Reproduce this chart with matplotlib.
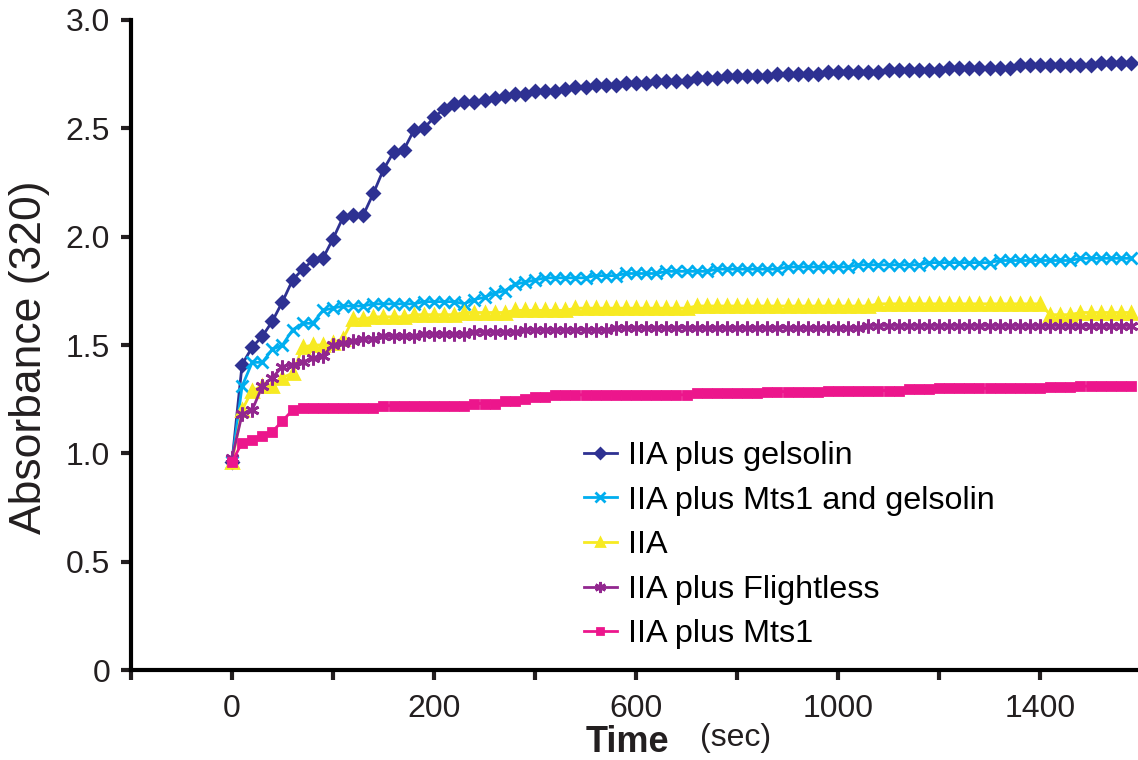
import numpy as np
import matplotlib.pyplot as plt

plt.rcParams['font.family'] = ['Liberation Sans', 'DejaVu Sans']

# readings every 20 s
time = np.arange(90) * 20

gelsolin = [0.96, 1.41, 1.49, 1.54, 1.61, 1.70, 1.80, 1.85, 1.89, 1.90,
            1.99, 2.09, 2.10, 2.10, 2.20, 2.31, 2.39, 2.40, 2.49, 2.50,
            2.55, 2.59, 2.61, 2.62, 2.62, 2.63, 2.64, 2.65, 2.66, 2.66,
            2.67, 2.67, 2.67, 2.68, 2.69, 2.69, 2.70, 2.70, 2.70, 2.71,
            2.71, 2.71, 2.72, 2.72, 2.72, 2.72, 2.73, 2.73, 2.73, 2.74,
            2.74, 2.74, 2.74, 2.74, 2.75, 2.75, 2.75, 2.75, 2.75, 2.76,
            2.76, 2.76, 2.76, 2.76, 2.76, 2.77, 2.77, 2.77, 2.77, 2.77,
            2.77, 2.78, 2.78, 2.78, 2.78, 2.78, 2.78, 2.78, 2.79, 2.79,
            2.79, 2.79, 2.79, 2.79, 2.79, 2.79, 2.80, 2.80, 2.80, 2.80]

mts1_gelsolin = [0.96, 1.31, 1.42, 1.42, 1.48, 1.50, 1.57, 1.60, 1.60, 1.66,
                 1.67, 1.68, 1.68, 1.68, 1.69, 1.69, 1.69, 1.69, 1.69, 1.70,
                 1.70, 1.70, 1.70, 1.69, 1.71, 1.72, 1.74, 1.75, 1.78, 1.79,
                 1.80, 1.81, 1.81, 1.81, 1.81, 1.81, 1.82, 1.82, 1.82, 1.83,
                 1.83, 1.83, 1.83, 1.84, 1.84, 1.84, 1.84, 1.84, 1.85, 1.85,
                 1.85, 1.85, 1.85, 1.85, 1.85, 1.86, 1.86, 1.86, 1.86, 1.86,
                 1.86, 1.86, 1.87, 1.87, 1.87, 1.87, 1.87, 1.87, 1.87, 1.88,
                 1.88, 1.88, 1.88, 1.88, 1.88, 1.88, 1.89, 1.89, 1.89, 1.89,
                 1.89, 1.89, 1.89, 1.89, 1.90, 1.90, 1.90, 1.90, 1.90, 1.90]

iia = [0.96, 1.20, 1.29, 1.31, 1.31, 1.35, 1.37, 1.49, 1.50, 1.50,
       1.51, 1.53, 1.62, 1.62, 1.63, 1.63, 1.63, 1.63, 1.64, 1.64,
       1.64, 1.64, 1.64, 1.65, 1.65, 1.65, 1.65, 1.65, 1.66, 1.66,
       1.66, 1.66, 1.66, 1.66, 1.67, 1.67, 1.67, 1.67, 1.67, 1.67,
       1.67, 1.67, 1.67, 1.67, 1.67, 1.67, 1.68, 1.68, 1.68, 1.68,
       1.68, 1.68, 1.68, 1.68, 1.68, 1.68, 1.68, 1.68, 1.68, 1.68,
       1.68, 1.68, 1.68, 1.68, 1.69, 1.69, 1.69, 1.69, 1.69, 1.69,
       1.69, 1.69, 1.69, 1.69, 1.69, 1.69, 1.69, 1.69, 1.69, 1.69,
       1.69, 1.64, 1.64, 1.64, 1.65, 1.65, 1.65, 1.65, 1.65, 1.65]

flightless = [0.98, 1.18, 1.20, 1.31, 1.35, 1.40, 1.41, 1.42, 1.44, 1.45,
              1.50, 1.51, 1.52, 1.53, 1.53, 1.54, 1.54, 1.54, 1.54, 1.55,
              1.55, 1.55, 1.55, 1.55, 1.56, 1.56, 1.56, 1.56, 1.56, 1.57,
              1.57, 1.57, 1.57, 1.57, 1.57, 1.57, 1.57, 1.57, 1.58, 1.58,
              1.58, 1.58, 1.58, 1.58, 1.58, 1.58, 1.58, 1.58, 1.58, 1.58,
              1.58, 1.58, 1.58, 1.58, 1.58, 1.58, 1.58, 1.58, 1.58, 1.58,
              1.58, 1.58, 1.58, 1.59, 1.59, 1.59, 1.59, 1.59, 1.59, 1.59,
              1.59, 1.59, 1.59, 1.59, 1.59, 1.59, 1.59, 1.59, 1.59, 1.59,
              1.59, 1.59, 1.59, 1.59, 1.59, 1.59, 1.59, 1.59, 1.59, 1.59]

mts1 = [0.96, 1.05, 1.06, 1.08, 1.10, 1.15, 1.20, 1.21, 1.21, 1.21,
        1.21, 1.21, 1.21, 1.21, 1.21, 1.22, 1.22, 1.22, 1.22, 1.22,
        1.22, 1.22, 1.22, 1.22, 1.23, 1.23, 1.23, 1.24, 1.24, 1.25,
        1.26, 1.26, 1.27, 1.27, 1.27, 1.27, 1.27, 1.27, 1.27, 1.27,
        1.27, 1.27, 1.27, 1.27, 1.27, 1.27, 1.28, 1.28, 1.28, 1.28,
        1.28, 1.28, 1.28, 1.285, 1.285, 1.285, 1.285, 1.285, 1.285, 1.29,
        1.29, 1.29, 1.29, 1.29, 1.29, 1.29, 1.29, 1.295, 1.295, 1.295,
        1.30, 1.30, 1.30, 1.30, 1.30, 1.30, 1.30, 1.30, 1.30, 1.30,
        1.30, 1.305, 1.305, 1.305, 1.31, 1.31, 1.31, 1.31, 1.31, 1.31]

series = [
    ('IIA plus gelsolin', gelsolin, '#2E3192', 'D', 6),
    ('IIA plus Mts1 and gelsolin', mts1_gelsolin, '#00AEEF', 'x', 9),
    ('IIA', iia, '#F7EA22', '^', 8),
    ('IIA plus Flightless', flightless, '#92278F', (6, 2, 0), 10),
    ('IIA plus Mts1', mts1, '#EC168C', 's', 6),
]

xtick_pos = [0, 400, 800, 1200, 1600]
xtick_lab = ['0', '200', '600', '1000', '1400']
ytick_pos = [0, 0.5, 1.0, 1.5, 2.0, 2.5, 3.0]
ytick_lab = ['0', '0.5', '1.0', '1.5', '2.0', '2.5', '3.0']

fig = plt.figure(figsize=(11.38, 7.6), dpi=100)
ax = fig.add_axes([0.1151, 0.1184, 0.8849, 0.8553])

for name, vals, col, mk, ms in series:
    ax.plot(time, vals, color=col, lw=2, marker=mk, ms=ms, mew=2,
            mec=col, mfc=col, label=name)

ax.set_xlim(-200, 1794)
ax.set_ylim(0, 3.0)
ax.spines['top'].set_visible(False)
ax.spines['right'].set_visible(False)
ax.spines['left'].set_linewidth(3)
ax.spines['bottom'].set_linewidth(3)

ax.set_xticks(np.arange(-200, 1800, 200))
ax.set_xticklabels(['' if t not in xtick_pos else xtick_lab[xtick_pos.index(t)]
                    for t in np.arange(-200, 1800, 200)])
ax.set_yticks(ytick_pos)
ax.set_yticklabels(ytick_lab)
ax.tick_params(direction='out', length=7, width=3, labelsize=23, colors='#231F20')
ax.tick_params(axis='x', pad=10)
ax.tick_params(axis='y', pad=8)

ax.legend(loc='upper left', bbox_to_anchor=(0.45, 0.352), frameon=False,
          fontsize=23.3, handlelength=1.0, handletextpad=0.35, numpoints=1,
          labelspacing=0.45, borderaxespad=0, borderpad=0, markerscale=0.8)

fig.text(0.026, 0.53, 'Absorbance (320)', rotation=90, fontsize=32,
         ha='center', va='center', color='#231F20')
fig.text(0.551, 0.0105, 'Time', fontsize=26, fontweight='bold', ha='center',
         va='baseline', color='#231F20')
fig.text(0.646, 0.018, '(sec)', fontsize=23, ha='center', va='baseline',
         color='#231F20')

fig.savefig('out.png', dpi=100)
